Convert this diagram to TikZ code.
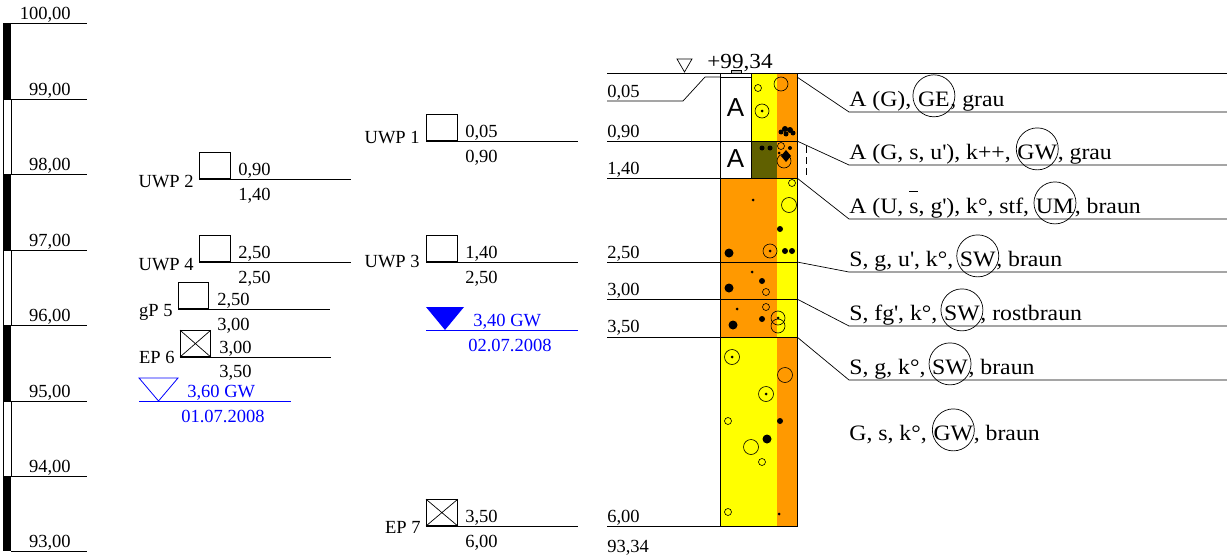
\documentclass[tikz,border=0pt]{standalone}
\usepackage{fontspec}
\setmainfont{Liberation Serif}
\newfontfamily\rfont{Liberation Serif}[FakeStretch=1.08]
\newfontfamily\colAfont{Liberation Sans}
\usetikzlibrary{calc}
\definecolor{gwblue}{RGB}{0,0,255}
\definecolor{lorange}{RGB}{255,153,0}
\definecolor{lyellow}{RGB}{255,255,0}
\definecolor{lolive}{RGB}{96,96,0}
\newcommand\sbarx{\makebox[0pt][l]{\raisebox{0.95em}{\rule{0.38em}{0.05em}}}s}
\begin{document}
\begin{tikzpicture}[x=1pt,y=-1pt,line width=0.7pt,
  lab/.style={font=\fontsize{18.5}{20}\selectfont,inner sep=0pt},
  big/.style={font=\rfont\fontsize{22}{26}\selectfont,inner sep=0pt},
  probe/.style={draw,minimum width=31pt,minimum height=26pt,inner sep=0pt,line width=0.8pt},
  ring/.style={draw,circle,minimum size=42pt,inner sep=0pt,line width=0.7pt},
  opn/.style={draw,line width=0.6pt},
  colA/.style={font=\colAfont\fontsize{26}{28}\selectfont,inner sep=0pt}]
\useasboundingbox (0,0) rectangle (1227,557);

% ---------- elevation scale ----------
\foreach \a/\b in {23/99,174/250,325/401,476/551} \fill (3,\a) rectangle (11,\b);
\foreach \a/\b in {99/174,250/325,401/476} \draw[line width=0.5pt,fill=white] (3,\a) rectangle (11,\b);
\foreach \y/\t [count=\i] in {23/{100,00},99/{99,00},174/{98,00},250/{97,00},325/{96,00},401/{95,00},476/{94,00},551/{93,00}} {
  \draw (11,\y) -- (87,\y);
  \node[lab,anchor=base east] (h\i) at (71,\y-4) {\t};
}

% ---------- left probes ----------
\node[probe,anchor=south west] (p2) at (199,179) {};
\draw (p2.south west) -- (351,179);
\node[lab,anchor=base east] (p2n) at (194,187) {UWP 2};
\node[lab,anchor=base west] (p2t) at (238,175) {0,90};
\node[lab,anchor=base west] (p2b) at (238,200) {1,40};

\node[probe,anchor=south west] (p4) at (199,262) {};
\draw (p4.south west) -- (351,262);
\node[lab,anchor=base east] (p4n) at (194,270) {UWP 4};
\node[lab,anchor=base west] (p4t) at (238,258) {2,50};
\node[lab,anchor=base west] (p4b) at (238,283) {2,50};

\node[probe,anchor=south west,minimum width=30pt] (p5) at (178,309) {};
\draw (p5.south west) -- (330,309);
\node[lab,anchor=base east] (p5n) at (173,316) {gP 5};
\node[lab,anchor=base west] (p5t) at (217,305) {2,50};
\node[lab,anchor=base west] (p5b) at (217,330) {3,00};

\node[probe,anchor=south west,minimum width=30pt] (p6) at (180,357) {};
\draw (p6.south west) -- (p6.north east) (p6.north west) -- (p6.south east);
\draw (p6.south west) -- (331,357);
\node[lab,anchor=base east] (p6n) at (175,363) {EP 6};
\node[lab,anchor=base west] (p6t) at (219,353) {3,00};
\node[lab,anchor=base west] (p6b) at (219,377) {3,50};

\draw[gwblue,line width=0.8pt] (139,378) -- (178,378) -- (158.5,401) -- cycle;
\draw[gwblue,line width=0.8pt] (139,401) -- (291,401);
\node[lab,gwblue,anchor=base west] (gw1) at (187,397) {3,60 GW};
\node[lab,gwblue,anchor=base west] (gw1d) at (181,422) {01.07.2008};

% ---------- middle probes ----------
\node[probe,anchor=south west] (p1) at (426,141) {};
\draw (p1.south west) -- (578,141);
\node[lab,anchor=base east] (p1n) at (420,143) {UWP 1};
\node[lab,anchor=base west] (p1t) at (465,137) {0,05};
\node[lab,anchor=base west] (p1b) at (465,162) {0,90};

\node[probe,anchor=south west] (p3) at (426,262) {};
\draw (p3.south west) -- (578,262);
\node[lab,anchor=base east] (p3n) at (420,267) {UWP 3};
\node[lab,anchor=base west] (p3t) at (465,258) {1,40};
\node[lab,anchor=base west] (p3b) at (465,283) {2,50};

\fill[gwblue] (426,307) -- (464,307) -- (445,330) -- cycle;
\draw[gwblue,line width=0.8pt] (426,330) -- (578,330);
\node[lab,gwblue,anchor=base west] (gw2) at (473,326) {3,40 GW};
\node[lab,gwblue,anchor=base west] (gw2d) at (468,351) {02.07.2008};

\node[probe,anchor=south west] (p7) at (426,526) {};
\draw (p7.south west) -- (p7.north east) (p7.north west) -- (p7.south east);
\draw (p7.south west) -- (578,526);
\node[lab,anchor=base east] (p7n) at (421,533) {EP 7};
\node[lab,anchor=base west] (p7t) at (465,522) {3,50};
\node[lab,anchor=base west] (p7b) at (465,547) {6,00};

% ---------- column fills ----------
\fill[lyellow] (751,73) rectangle (777,141);
\fill[lorange] (777,73) rectangle (797,141);
\fill[lolive] (751,141) rectangle (777,178);
\fill[lorange] (777,141) rectangle (797,178);
\fill[lorange] (720,178) rectangle (777,337);
\fill[lyellow] (777,178) rectangle (797,337);
\fill[lyellow] (720,337) rectangle (777,526);
\fill[lorange] (777,337) rectangle (797,526);

% ---------- grain symbols ----------
% layer 0.05-0.90
\draw[opn] (758,88) circle (3.5);
\draw[opn] (781,84) circle (7);
\draw[opn] (762,111) circle (7); \fill (762,111) circle (1.5);
\fill (781,132) circle (2.5); \fill (785,129) circle (3); \fill (790,130) circle (3);
\fill (793,133) circle (2.5); \fill (786,134) circle (2.5);
% layer 0.90-1.40
\fill (762,148) circle (2.5); \fill (770,148) circle (2.5);
\draw[opn] (781,146) circle (3.5);
\fill (790,148) circle (2);
\fill (779,153) circle (1.5);
\draw[opn] (784,161) circle (7);
\fill (786,150) -- (791,156) -- (786,162) -- (781,156) -- cycle;
% layer 1.40-2.50
\draw[opn] (792,183) circle (3.5);
\fill (753,200) circle (1.5);
\draw[opn] (789,205) circle (7.5);
\fill (780,229) circle (3);
\draw[opn] (770,251) circle (7); \fill (770,251) circle (1.5);
\fill (785,251) circle (3); \fill (792,251) circle (3);
\fill (729,253) circle (4.5);
% layer 2.50-3.00
\fill (752,272) circle (1.5);
\fill (762,281) circle (3);
\fill (729,288) circle (4.5);
\draw[opn] (766,292) circle (3.5);
% layer 3.00-3.50
\fill (737,309) circle (1.5);
\draw[opn] (766,307) circle (3.5);
\fill (762,319) circle (3);
\fill (733,325) circle (4.5);
\draw[opn] (778,318) circle (7); \draw[opn] (778,326) circle (7);
\fill (778,318) circle (1.5);
% layer 3.50-6.00
\draw[opn] (732,357) circle (7.5); \fill (732,357) circle (1.5);
\draw[opn] (785,375) circle (7.5);
\draw[opn] (766,394) circle (7.5); \fill (766,394) circle (1.5);
\draw[opn] (728,421) circle (3.5);
\fill (780,421) circle (3);
\fill (767,439) circle (4.5);
\draw[opn] (751,447) circle (7.5);
\draw[opn] (762,462) circle (3.5);
\draw[opn] (728,512) circle (3.5);
\fill (779,514) circle (1.5);

% ---------- column frame and layer lines ----------
\draw (720,73) rectangle (797,526);
\draw (751,73) -- (751,178);
\draw (720,77) -- (751,77);
\foreach \y in {141,178,262,299,337,526} \draw (607,\y) -- (797,\y);
\node[colA] (A1) at (735.5,108) {A};
\node[colA] (A2) at (735.5,159) {A};

% surface
\draw (607,73) -- (1227,73);
\coordinate (k1) at (683,101);
\coordinate (k2) at (705,77);
\draw (607,101) -- (k1) -- (k2) -- (720,77);
\draw[line width=0.5pt,fill=black!25] (731,70) rectangle (741,73);
\draw (677,59) -- (692,59) -- (684.5,72) -- cycle;
\node[big,anchor=base west,font=\rfont\fontsize{21.5}{24}\selectfont] (elev) at (707,68) {+99,34};

% depth labels
\foreach \y/\t [count=\i] in {97/{0,05},137/{0,90},174/{1,40},258/{2,50},295/{3,00},332/{3,50},522/{6,00},552/{93,34}}
  \node[lab,anchor=base west] (d\i) at (607,\y) {\t};

% ---------- leaders to descriptions ----------
\foreach \ya/\yb in {77/112,141/165,178/219,262/272,299/326,337/380}
  \draw (797,\ya) -- (849,\yb) -- (1227,\yb);
\draw[dash pattern=on 7pt off 4pt,line width=0.5pt] (806,146) -- (806,178);

% ---------- descriptions ----------
\node[big,anchor=base west] (r1a) at (849,106) {A (G),};
\node[big,anchor=base west] (r1b) at ([xshift=6pt]r1a.base east) {GE};
\node[big,anchor=base west] (r1c) at (r1b.base east) {, grau};
\node[ring] (c1) at ([yshift=3pt]r1b.center) {};

\node[big,anchor=base west] (r2a) at (849,159) {A (G, s, u\textquotesingle), k++,};
\node[big,anchor=base west] (r2b) at ([xshift=6pt]r2a.base east) {GW};
\node[big,anchor=base west] (r2c) at (r2b.base east) {, grau};
\node[ring] (c2) at ([yshift=3pt]r2b.center) {};

\node[big,anchor=base west] (r3a) at (849,213) {A (U, \sbarx, g\textquotesingle), k°, stf,};
\node[big,anchor=base west] (r3b) at ([xshift=6pt]r3a.base east) {UM};
\node[big,anchor=base west] (r3c) at (r3b.base east) {, braun};
\node[ring] (c3) at ([yshift=3pt]r3b.center) {};

\node[big,anchor=base west] (r4a) at (849,266) {S, g, u\textquotesingle, k°,};
\node[big,anchor=base west] (r4b) at ([xshift=6pt]r4a.base east) {SW};
\node[big,anchor=base west] (r4c) at (r4b.base east) {, braun};
\node[ring] (c4) at ([yshift=3pt]r4b.center) {};

\node[big,anchor=base west] (r5a) at (849,320) {S, fg\textquotesingle, k°,};
\node[big,anchor=base west] (r5b) at ([xshift=6pt]r5a.base east) {SW};
\node[big,anchor=base west] (r5c) at (r5b.base east) {, rostbraun};
\node[ring] (c5) at ([yshift=3pt]r5b.center) {};

\node[big,anchor=base west] (r6a) at (849,374) {S, g, k°,};
\node[big,anchor=base west] (r6b) at ([xshift=6pt]r6a.base east) {SW};
\node[big,anchor=base west] (r6c) at (r6b.base east) {, braun};
\node[ring] (c6) at ([yshift=3pt]r6b.center) {};

\node[big,anchor=base west] (r7a) at (849,440) {G, s, k°,};
\node[big,anchor=base west] (r7b) at ([xshift=6pt]r7a.base east) {GW};
\node[big,anchor=base west] (r7c) at (r7b.base east) {, braun};
\node[ring] (c7) at ([yshift=3pt]r7b.center) {};
\end{tikzpicture}
\end{document}
